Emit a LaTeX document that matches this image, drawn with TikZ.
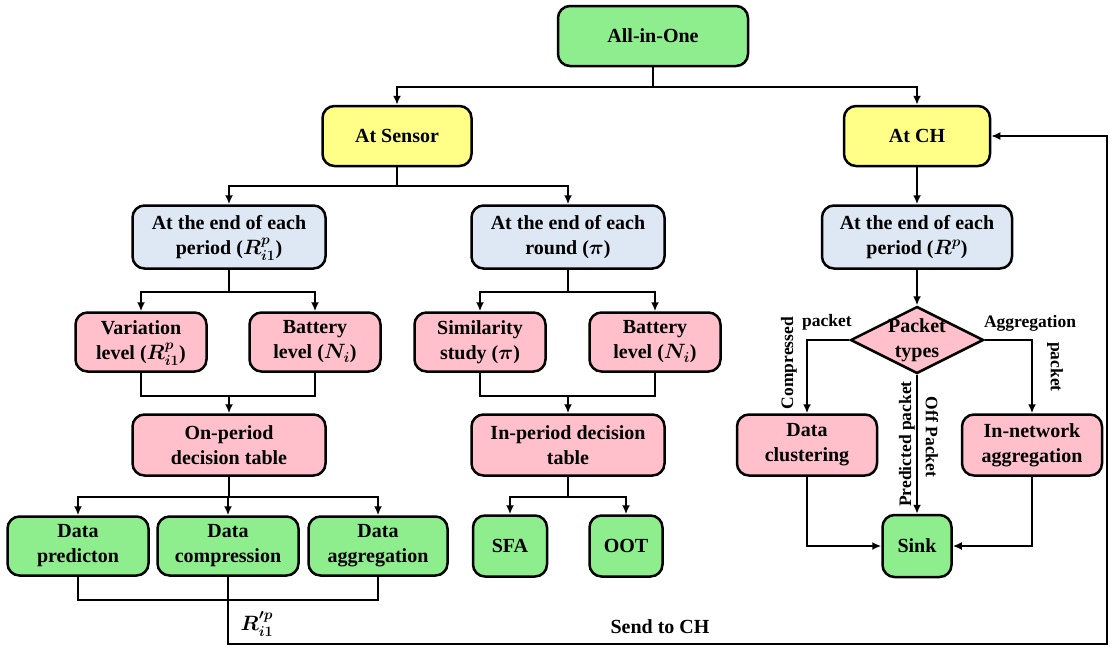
\documentclass[tikz,border=0pt]{standalone}
\usepackage{fontspec}
\setmainfont{Liberation Serif}
\usepackage{amsmath}
\usepackage{bm}
\usetikzlibrary{shapes.geometric,arrows.meta}
\definecolor{boxgreen}{HTML}{8EEE8E}
\definecolor{boxyellow}{HTML}{FFFF88}
\definecolor{boxblue}{HTML}{DEE8F4}
\definecolor{boxpink}{HTML}{FFC0CB}
\tikzset{
  >={Latex[length=9pt,width=8pt]},
}
\tikzstyle{every node}=[font=\bfseries\boldmath\fontsize{20}{25}\selectfont]
\tikzstyle{block}=[draw,line width=2.5pt,rounded corners=12pt,align=center,minimum height=60pt,inner sep=2pt]
\tikzstyle{link}=[line width=2pt]
\tikzstyle{lbl}=[font=\bfseries\fontsize{17.5}{20}\selectfont,inner sep=1pt]
\newcommand{\mth}[1]{$\smash{\bm{#1}}$}

\begin{document}
\begin{tikzpicture}[x=1pt,y=-1pt]
  \useasboundingbox (0,0) rectangle (1110,646);
  % top levels
  \node[block,fill=boxgreen,minimum width=190] (allone) at (653,36) {All-in-One};
  \node[block,fill=boxyellow,minimum width=149] (atsensor) at (397,136) {At Sensor};
  \node[block,fill=boxyellow,minimum width=146] (atch) at (917,136) {At CH};
  \node[block,fill=boxblue,minimum width=193,minimum height=63] (endper) at (229,237) {At the end of each\\period (\mth{R^p_{i1}})};
  \node[block,fill=boxblue,minimum width=193,minimum height=63] (endrnd) at (568,237) {At the end of each\\round (\mth{\pi})};
  \node[block,fill=boxblue,minimum width=190,minimum height=63] (chper) at (917,237) {At the end of each\\period (\mth{R^p})};
  % sensor side
  \node[block,fill=boxpink,minimum width=131,minimum height=59] (varlvl) at (141,342) {Variation\\level (\mth{R^p_{i1}})};
  \node[block,fill=boxpink,minimum width=131,minimum height=59] (batl) at (315,342) {Battery\\level (\mth{N_i})};
  \node[block,fill=boxpink,minimum width=131,minimum height=59] (simst) at (480,342) {Similarity\\study (\mth{\pi})};
  \node[block,fill=boxpink,minimum width=131,minimum height=59] (batr) at (655,342) {Battery\\level (\mth{N_i})};
  \node[block,fill=boxpink,minimum width=193,minimum height=61] (onper) at (229,445) {On-period\\decision table};
  \node[block,fill=boxpink,minimum width=193,minimum height=61] (inper) at (568,445) {In-period decision\\table};
  \node[block,fill=boxgreen,minimum width=141,minimum height=59] (dpred) at (78,546) {Data\\predicton};
  \node[block,fill=boxgreen,minimum width=141,minimum height=59] (dcomp) at (228,546) {Data\\compression};
  \node[block,fill=boxgreen,minimum width=139,minimum height=59] (dagg) at (378,546) {Data\\aggregation};
  \node[block,fill=boxgreen,minimum width=74,minimum height=61] (sfa) at (510,546) {SFA};
  \node[block,fill=boxgreen,minimum width=73,minimum height=61] (oot) at (626,546) {OOT};
  % CH side
  \node[draw,line width=2.5pt,fill=boxpink,diamond,inner sep=0pt,minimum width=133,minimum height=67,
        label={[align=center]center:Packet\\types}] (ptype) at (917,340) {};
  \node[block,fill=boxpink,minimum width=140,minimum height=61] (dclus) at (807,445) {Data\\clustering};
  \node[block,fill=boxpink,minimum width=140,minimum height=61] (innet) at (1032,445) {In-network\\aggregation};
  \node[block,fill=boxgreen,minimum width=69,minimum height=62] (sink) at (917,546) {Sink};

  % links
  \draw[link,->] (allone.south) -- ++(0,20) -| (atsensor.north);
  \draw[link,->] (allone.south) -- ++(0,20) -| (atch.north);
  \draw[link,->] (atsensor.south) -- ++(0,19) -| (endper.north);
  \draw[link,->] (atsensor.south) -- ++(0,19) -| (endrnd.north);
  \draw[link,->] (atch.south) -- (chper.north);
  \draw[link,->] (endper.south) -- ++(0,22) -| (varlvl.north);
  \draw[link,->] (endper.south) -- ++(0,22) -| (batl.north);
  \draw[link,->] (endrnd.south) -- ++(0,22) -| (simst.north);
  \draw[link,->] (endrnd.south) -- ++(0,22) -| (batr.north);
  \draw[link] (varlvl.south) -- ++(0,23) coordinate (mleft) -| (batl.south);
  \draw[link,->] (mleft -| onper.north) -- (onper.north);
  \draw[link] (simst.south) -- ++(0,23) coordinate (mright) -| (batr.south);
  \draw[link,->] (mright -| inper.north) -- (inper.north);
  \draw[link,->] (onper.south) -- ++(0,20) -| (dpred.north);
  \draw[link,->] (onper.south) -- ++(0,20) -| (dcomp.north);
  \draw[link,->] (onper.south) -- ++(0,20) -| (dagg.north);
  \draw[link,->] (inper.south) -- ++(0,20) -| (sfa.north);
  \draw[link,->] (inper.south) -- ++(0,20) -| (oot.north);
  \draw[link] (dpred.south) -- ++(0,23) -| (dagg.south);
  \coordinate (back) at (1107,644);
  \draw[link,->] (dcomp.south) |- (back) |- (atch.east);
  \node (rsend) at (257,624) {$\bm{R'^{p}_{i1}}$};
  \node (sendch) at (660,627) {Send to CH};

  \draw[link,->] (chper.south) -- (ptype.north);
  \draw[link,->] (ptype.west) -| (dclus.north);
  \draw[link,->] (ptype.east) -| (innet.north);
  \draw[link,->] (ptype.south) -- (sink.north);
  \draw[link,->] (dclus.south) |- (sink.west);
  \draw[link,->] (innet.south) |- (sink.east);
  \node[lbl] (lpk1) at (827,322) {packet};
  \node[lbl,rotate=90] (lcomp) at (789,363) {Compressed};
  \node[lbl] (lagg) at (1030,323) {Aggregation};
  \node[lbl,rotate=-90] (lpk2) at (1055,367) {packet};
  \node[lbl,rotate=90] (lpred) at (907,444) {Predicted packet};
  \node[lbl,rotate=-90] (loff) at (932,437) {Off Packet};
\end{tikzpicture}
\end{document}
